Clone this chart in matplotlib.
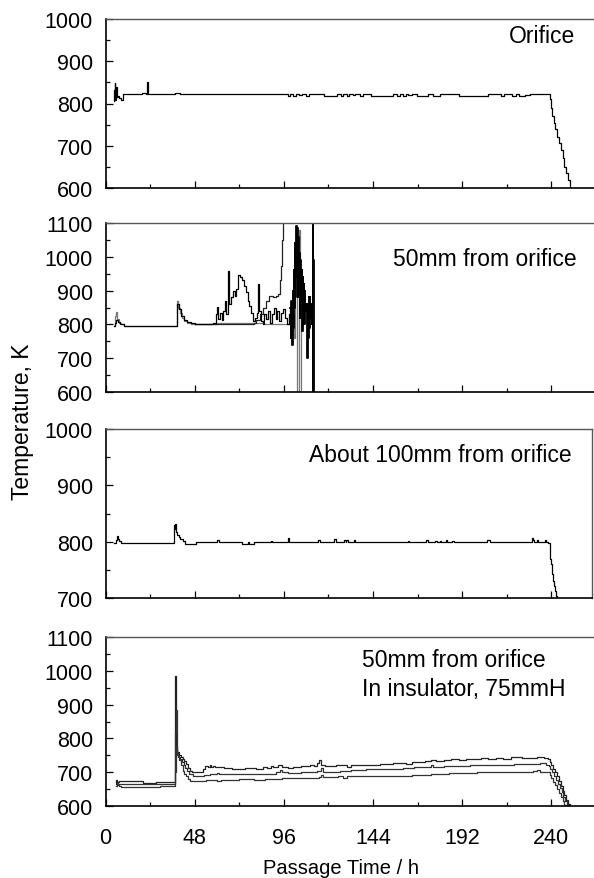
import matplotlib
matplotlib.use("Agg")
import matplotlib.pyplot as plt
from matplotlib.ticker import MultipleLocator

plt.rcParams['font.family'] = ['Liberation Sans', 'DejaVu Sans']

# ---- data ----
# Orifice
orifice_t = [4.4, 4.7, 5.0, 5.3, 5.6, 6.0, 6.5, 7.5, 8.5, 9.5, 19.5, 22.0, 22.6, 22.9, 37.5,
             40.0, 98.0, 99.5, 101.0, 102.5, 104.0, 106.0, 108.0, 109.5, 117.5, 124.5, 126.5,
             128.0, 130.0, 131.0, 133.0, 134.5, 137.0, 138.5, 143.0, 155.0, 157.0, 158.5,
             160.0, 161.5, 163.0, 165.0, 167.5, 173.5, 176.0, 180.0, 190.0, 206.0, 213.0,
             214.5, 219.0, 221.0, 222.5, 226.0, 228.5, 238.5, 239.3, 239.8, 240.5, 241.3,
             242.0, 243.0, 244.0, 245.0, 246.0, 247.0, 248.0, 249.0, 250.0, 251.0]
orifice_T = [805, 832, 848, 808, 840, 815, 818, 812, 809, 822, 826, 822, 850, 822, 826,
             822, 817, 822, 817, 822, 819, 822, 817, 822, 817, 822, 817,
             822, 817, 822, 819, 822, 817, 822, 817, 822, 817, 822,
             817, 822, 819, 822, 817, 822, 817, 822, 817, 822, 817,
             822, 817, 822, 817, 819, 822, 822, 810, 790, 770, 755,
             740, 720, 707, 690, 670, 650, 635, 618, 600, 590]

# 50 mm from orifice (several thermocouples)
mm50_gray_t = [4.5, 5.0, 5.4, 6.0, 7.0, 8.5, 10.0, 38.5, 38.6, 39.2, 40.0, 41.0, 42.5, 44.0,
               46.0, 48.0, 60.0, 75.0, 85.0, 99.0, 100.0, 100.7, 101.2, 101.8, 102.3, 102.8,
               103.5, 104.0, 104.6, 105.0, 106.0]
mm50_gray_T = [795, 825, 838, 815, 805, 800, 795, 795, 870, 850, 835, 818, 810, 805,
               802, 800, 803, 803, 800, 800, 780, 830, 760, 1000, 1090, 590,
               590, 1080, 950, 590, 590]
mm50_blk1_t = [4.5, 5.0, 5.5, 6.5, 8.0, 10.0, 38.5, 38.6, 39.5, 40.5, 42.0, 44.0, 46.0, 48.0,
               55.0, 58.0, 59.5, 60.0, 60.5, 61.5, 62.5, 63.5, 64.5, 65.0, 66.0, 66.5, 67.5,
               68.5, 69.5, 70.5, 71.5, 72.5, 73.5, 74.5, 75.5, 76.5, 77.5, 78.5, 79.5, 80.5,
               81.5, 82.0, 82.5, 83.5, 84.5, 85.5, 86.5, 87.5, 88.5, 89.5, 90.5, 91.5, 92.5,
               93.5, 94.5, 95.5, 96.5, 97.5, 98.5, 99.5]
mm50_blk1_T = [795, 805, 812, 808, 800, 795, 795, 860, 845, 825, 812, 806, 803, 800,
               801, 805, 830, 851, 815, 835, 812, 840, 870, 830, 958, 860, 880,
               900, 885, 905, 946, 940, 930, 915, 895, 870, 855, 835, 810, 820,
               835, 920, 840, 810, 800, 830, 815, 840, 805, 830, 850, 815, 840,
               810, 835, 845, 820, 800, 830, 850]
mm50_blk2_t = [48.0, 80.0, 81.0, 83.0, 85.0, 86.5, 88.0, 90.0, 92.0, 93.0, 94.0, 94.5, 95.0,
               95.5]
mm50_blk2_T = [800, 805, 812, 830, 850, 870, 884, 880, 885, 890, 930, 973, 1050, 1110]
mm50_osc_t = [99.5, 99.8, 100.1, 100.4, 100.7, 101.0, 101.3, 101.6, 101.9, 102.2, 102.5, 102.8,
              103.1, 103.4, 103.7, 104.0, 104.3, 104.6, 104.9, 105.2, 105.5, 105.8, 106.1,
              106.4, 106.7, 107.0, 107.3, 107.6, 107.9, 108.2, 108.5, 108.8, 109.1, 109.4,
              109.7, 110.0, 110.3, 110.6, 110.9, 111.2, 111.5, 111.7, 111.9, 112.1, 112.3]
mm50_osc_T = [850, 760, 870, 740, 900, 790, 960, 850, 1040, 880, 1090, 940, 1085, 880, 1060,
              900, 1010, 820, 990, 870, 960, 780, 940, 850, 920, 800, 900, 840, 860, 760,
              700, 860, 760, 880, 790, 880, 820, 860, 800, 840, 1110, 590, 990, 590, 590]

# About 100 mm from orifice
mm100_t = [4.4, 5.5, 6.0, 6.8, 7.5, 8.5, 9.5, 36.6, 36.8, 37.3, 37.6, 38.0, 38.6, 39.3, 40.2,
           41.5, 43.0, 48.5, 60.0, 61.0, 73.5, 76.5, 77.0, 80.0, 89.0, 89.5, 98.0, 98.8,
           114.5, 115.5, 123.0, 124.0, 128.3, 129.2, 129.6, 130.5, 133.5, 134.3, 163.0,
           163.5, 172.5, 173.5, 177.5, 178.3, 180.0, 180.8, 183.0, 184.0, 186.5, 187.3,
           205.5, 207.0, 229.3, 230.0, 230.8, 232.0, 232.8, 236.5, 237.3, 238.4, 239.0,
           239.5, 240.0, 240.5, 241.0, 241.5, 242.0, 242.5, 243.0]
mm100_T = [797, 803, 810, 805, 801, 798, 797, 797, 830, 822, 832, 818, 812, 808, 804,
           801, 796, 800, 803, 800, 796, 800, 796, 800, 802, 800, 806, 800,
           803, 800, 805, 800, 803, 800, 803, 800, 803, 800, 801,
           800, 803, 800, 802, 800, 802, 800, 803, 800, 802, 800,
           803, 800, 807, 803, 800, 803, 800, 803, 800, 797, 785,
           770, 760, 742, 730, 722, 712, 704, 695]

# 50 mm from orifice, in insulator, 75 mmH (three levels)
ins_top_t = [5.4, 5.8, 6.3, 7.0, 20.0, 27.0, 37.4, 37.7, 38.0, 38.5, 39.5, 40.5, 41.5, 42.5,
             43.5, 44.5, 45.5, 46.5, 52.5, 53.5, 55.0, 56.0, 57.0, 58.0, 59.0, 62.0, 64.0,
             68.0, 75.0, 81.0, 85.0, 87.0, 89.0, 90.0, 93.0, 95.0, 98.0, 101.0, 105.0,
             110.0, 112.0, 114.0, 115.0, 116.0, 118.0, 124.0, 130.0, 132.0, 138.0, 148.0,
             155.0, 158.0, 162.0, 165.0, 172.0, 175.0, 178.0, 182.0, 186.0, 190.0, 194.0,
             198.0, 202.0, 206.0, 210.0, 214.0, 218.0, 224.0, 232.0, 236.0, 238.0, 239.0,
             240.0, 241.0, 242.0, 243.0, 244.0, 245.0, 246.0, 247.0, 248.0, 249.0, 250.0]
ins_top_T = [665, 678, 670, 673, 667, 672, 985, 800, 770, 760, 752, 745, 738, 732,
             725, 712, 705, 702, 708, 718, 716, 720, 716, 718, 714, 716, 713,
             710, 712, 710, 716, 713, 718, 714, 720, 714, 712, 716, 718,
             720, 718, 726, 735, 722, 718, 720, 716, 720, 722, 724,
             726, 728, 725, 730, 732, 736, 733, 736, 738, 736, 740,
             738, 742, 740, 742, 740, 744, 742, 745, 742, 738, 730,
             720, 710, 700, 690, 675, 660, 645, 632, 618, 605, 595]
ins_mid_t = [5.6, 6.0, 6.5, 37.4, 38.2, 38.6, 39.2, 40.0, 41.0, 42.0, 43.0, 44.0, 45.0, 47.0,
             53.0, 56.0, 60.0, 61.0, 75.0, 78.0, 85.0, 92.0, 94.0, 95.0, 98.0, 105.0, 114.0,
             116.0, 117.0, 122.0, 126.0, 132.0, 140.0, 150.0, 160.0, 166.0, 172.0, 175.0,
             176.0, 182.0, 188.0, 196.0, 205.0, 220.0, 234.0, 237.0, 238.5, 239.5, 240.5,
             241.5, 242.5, 243.5, 244.5, 245.5, 246.5, 247.5, 248.5, 249.5]
ins_mid_T = [660, 668, 664, 815, 884, 760, 745, 740, 730, 722, 712, 703, 695, 690,
             692, 694, 698, 694, 696, 694, 696, 700, 706, 700, 697, 700, 705,
             712, 702, 700, 704, 706, 708, 710, 712, 714, 716, 722,
             714, 717, 718, 720, 722, 724, 726, 722, 718, 710, 700,
             690, 678, 665, 652, 640, 628, 615, 602, 592]
ins_bot_t = [6.0, 7.0, 8.5, 29.5, 37.4, 37.8, 38.5, 39.5, 40.5, 41.5, 42.5, 43.5, 44.5, 45.5,
             47.0, 54.0, 60.0, 62.0, 72.0, 80.0, 86.0, 95.0, 100.0, 115.0, 116.0, 117.0,
             125.0, 128.0, 130.0, 150.0, 165.0, 175.0, 180.0, 185.0, 200.0, 230.0, 232.0,
             234.0, 238.0, 239.0, 240.0, 241.0, 242.0, 243.0, 244.0, 245.0, 246.0, 247.0,
             248.0]
ins_bot_T = [662, 660, 657, 660, 700, 778, 750, 735, 720, 705, 695, 688, 680, 675,
             673, 676, 675, 678, 680, 678, 680, 682, 684, 686, 692, 686,
             688, 684, 690, 690, 692, 696, 694, 698, 700, 703, 706,
             702, 700, 692, 682, 672, 662, 650, 638, 626, 614, 602,
             592]

panel_labels = ["Orifice", "50mm from orifice", "About 100mm from orifice",
                "50mm from orifice\nIn insulator, 75mmH"]
y_ranges = [(600, 1000), (600, 1100), (700, 1000), (600, 1100)]
x_ticks = [0, 48, 96, 144, 192, 240]

# ---- figure ----
W, H = 594, 879
fig = plt.figure(figsize=(W / 100, H / 100), dpi=100)

def px_axes(x0, x1, y0, y1):
    return fig.add_axes([x0 / W, 1 - y1 / H, (x1 - x0) / W, (y1 - y0) / H])

px_per_h = 1.858
ax1 = px_axes(105.5, 105.5 + 264 * px_per_h, 20, 189)
ax2 = px_axes(105.5, 105.5 + 264 * px_per_h, 224, 393)
ax3 = px_axes(105.5, 592, 430, 599)
ax4 = px_axes(105.5, 105.5 + 264 * px_per_h, 638, 807)
axes = [ax1, ax2, ax3, ax4]

kw = dict(drawstyle='steps-post', lw=0.9)
ax1.plot(orifice_t, orifice_T, color='black', **kw)

ax2.plot(mm50_gray_t, mm50_gray_T, color='#777777', **kw)
ax2.plot(mm50_blk2_t, mm50_blk2_T, color='#222222', **kw)
ax2.plot(mm50_blk1_t, mm50_blk1_T, color='black', **kw)
ax2.plot(mm50_osc_t, mm50_osc_T, color='black', drawstyle='steps-post', lw=1.3)

ax3.plot(mm100_t, mm100_T, color='black', **kw)

ax4.plot(ins_top_t, ins_top_T, color='#222222', **kw)
ax4.plot(ins_mid_t, ins_mid_T, color='#333333', **kw)
ax4.plot(ins_bot_t, ins_bot_T, color='#333333', **kw)

for i, ax in enumerate(axes):
    ax.set_ylim(*y_ranges[i])
    ax.set_xlim(0, (ax.get_position().width * W) / px_per_h)
    ax.xaxis.set_major_locator(MultipleLocator(48))
    ax.xaxis.set_minor_locator(MultipleLocator(24))
    ax.yaxis.set_major_locator(MultipleLocator(100))
    ax.yaxis.set_minor_locator(MultipleLocator(50))
    ax.tick_params(which='both', direction='in', top=False, right=False)
    ax.tick_params(which='major', length=5, width=0.9)
    ax.tick_params(which='minor', length=3, width=0.9)
    ax.tick_params(axis='y', labelsize=15.5, pad=9)
    ax.tick_params(axis='x', labelsize=15.5, pad=15)
    for s in ['left', 'bottom']:
        ax.spines[s].set_linewidth(1.2)
    for s in ['top', 'right']:
        ax.spines[s].set_linewidth(1.0)
        ax.spines[s].set_color('#555555')
    if ax is not ax4:
        ax.set_xticklabels([])
    else:
        ax.set_xticks(x_ticks)

ax1.text(0.957, 0.90, panel_labels[0], transform=ax1.transAxes, ha='right', va='center',
         fontsize=16.5)
ax2.text(0.96, 0.787, panel_labels[1], transform=ax2.transAxes, ha='right', va='center',
         fontsize=16.5)
ax3.text(0.959, 0.85, panel_labels[2], transform=ax3.transAxes, ha='right', va='center',
         fontsize=16.5)
ax4.text(0.522, 0.78, panel_labels[3], transform=ax4.transAxes, ha='left', va='center',
         fontsize=16.5, linespacing=1.3)

fig.text(23 / W, 1 - 422 / H, "Temperature, K", rotation=90, ha='center', va='center',
         fontsize=16.5)
fig.text(341 / W, 1 - 869 / H, "Passage Time / h", ha='center', va='center', fontsize=14.5)

fig.savefig("out.png", dpi=100)
